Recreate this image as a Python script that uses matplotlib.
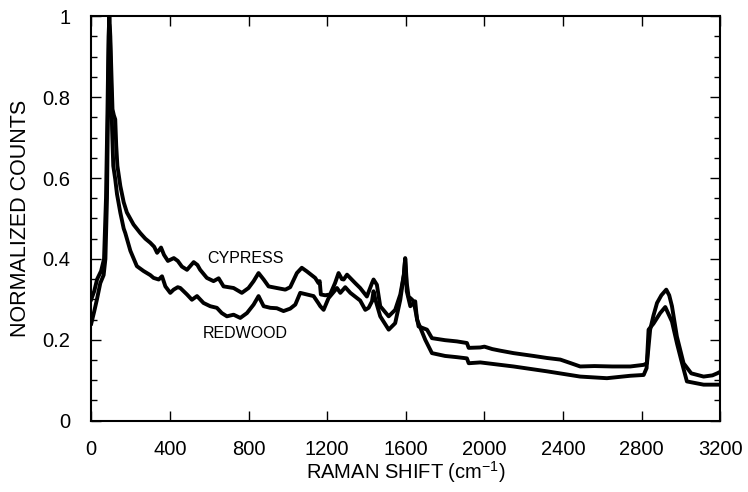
import matplotlib
matplotlib.use("Agg")
import matplotlib.pyplot as plt
from matplotlib.ticker import MultipleLocator, FuncFormatter

plt.rcParams['font.family'] = ['Liberation Sans', 'DejaVu Sans']

# values
cypress_x = [0, 15, 30, 50, 65, 75, 82, 88, 92, 97, 103, 108, 115, 122, 127, 133, 148, 165,
             181, 215, 249, 275, 300, 320, 335, 355, 370, 390, 420, 440, 461, 487, 521, 540,
             554, 588, 622, 648, 673, 724, 766, 800, 826, 851, 877, 902, 944, 987, 1012,
             1046, 1071, 1097, 1139, 1156, 1162, 1168, 1190, 1215, 1240, 1258, 1275, 1284,
             1301, 1343, 1368, 1402, 1428, 1436, 1453, 1470, 1513, 1546, 1572, 1590, 1597,
             1605, 1614, 1630, 1640, 1665, 1708, 1733, 1800, 1860, 1911, 1920, 1979, 2000,
             2040, 2081, 2148, 2250, 2318, 2386, 2440, 2487, 2560, 2650, 2742, 2810, 2827,
             2843, 2860, 2878, 2900, 2925, 2940, 2954, 2979, 3013, 3052, 3115, 3160, 3184, 3200]
cypress_y = [0.30, 0.32, 0.35, 0.37, 0.40, 0.55, 0.75, 0.95, 1.00, 0.95, 0.85, 0.77, 0.755,
             0.745, 0.68, 0.63, 0.58, 0.54, 0.515, 0.485, 0.464, 0.45, 0.44, 0.43, 0.415,
             0.428, 0.41, 0.395, 0.402, 0.395, 0.381, 0.373, 0.392, 0.385, 0.373, 0.353,
             0.345, 0.352, 0.332, 0.328, 0.316, 0.328, 0.345, 0.365, 0.349, 0.332, 0.328,
             0.324, 0.33, 0.365, 0.378, 0.369, 0.353, 0.340, 0.345, 0.312, 0.31, 0.312, 0.34,
             0.365, 0.35, 0.349, 0.361, 0.340, 0.328, 0.307, 0.340, 0.349, 0.336, 0.283,
             0.258, 0.274, 0.312, 0.36, 0.402, 0.34, 0.307, 0.30, 0.295, 0.233, 0.225, 0.204,
             0.199, 0.196, 0.192, 0.180, 0.181, 0.183, 0.177, 0.173, 0.167, 0.16, 0.155,
             0.151, 0.142, 0.134, 0.135, 0.134, 0.134, 0.138, 0.142, 0.225, 0.26, 0.291,
             0.31, 0.324, 0.31, 0.283, 0.208, 0.142, 0.117, 0.109, 0.112, 0.117, 0.121]

redwood_x = [0, 15, 29, 46, 63, 72, 80, 87, 91, 95, 100, 106, 112, 122, 131, 148, 165, 173,
             199, 232, 266, 300, 317, 343, 360, 377, 402, 419, 440, 453, 487, 512, 538, 571,
             605, 639, 664, 690, 724, 758, 792, 826, 851, 877, 911, 944, 978, 1012, 1038,
             1063, 1097, 1131, 1156, 1165, 1182, 1207, 1250, 1267, 1292, 1318, 1368, 1394,
             1411, 1428, 1436, 1445, 1470, 1513, 1546, 1572, 1590, 1597, 1605, 1623, 1648,
             1657, 1699, 1733, 1800, 1860, 1911, 1920, 1979, 2148, 2318, 2487, 2623, 2742,
             2810, 2825, 2835, 2860, 2894, 2920, 2954, 2980, 3001, 3030, 3115, 3200]
redwood_y = [0.24, 0.27, 0.30, 0.34, 0.36, 0.40, 0.55, 0.85, 0.98, 0.95, 0.85, 0.72, 0.63,
             0.597, 0.56, 0.514, 0.475, 0.464, 0.42, 0.382, 0.37, 0.36, 0.353, 0.349, 0.357,
             0.332, 0.316, 0.324, 0.33, 0.328, 0.312, 0.299, 0.308, 0.291, 0.283, 0.279,
             0.266, 0.258, 0.262, 0.254, 0.266, 0.287, 0.308, 0.283, 0.279, 0.278, 0.271,
             0.277, 0.287, 0.316, 0.312, 0.308, 0.29, 0.283, 0.274, 0.303, 0.328, 0.316,
             0.330, 0.316, 0.297, 0.274, 0.279, 0.295, 0.320, 0.30, 0.258, 0.225, 0.241,
             0.299, 0.36, 0.40, 0.32, 0.283, 0.295, 0.250, 0.200, 0.167, 0.160, 0.157, 0.154,
             0.142, 0.144, 0.134, 0.122, 0.109, 0.105, 0.111, 0.113, 0.13, 0.225, 0.24,
             0.266, 0.281, 0.245, 0.19, 0.150, 0.097, 0.089, 0.089]

fig = plt.figure(figsize=(7.48, 4.92), dpi=100)
ax = fig.add_axes([0.122, 0.145, 0.841, 0.822])

ax.plot(cypress_x, cypress_y, color='black', lw=2.8, solid_joinstyle='round')
ax.plot(redwood_x, redwood_y, color='black', lw=2.8, solid_joinstyle='round')

ax.text(783, 0.40, 'CYPRESS', fontsize=11.5, ha='center', va='center')
ax.text(783, 0.215, 'REDWOOD', fontsize=11.5, ha='center', va='center')

ax.set_xlim(0, 3200)
ax.set_ylim(0, 1)
ax.xaxis.set_major_locator(MultipleLocator(400))
ax.yaxis.set_major_locator(MultipleLocator(0.2))
ax.yaxis.set_minor_locator(MultipleLocator(0.05))
ax.yaxis.set_major_formatter(FuncFormatter(lambda v, p: '%g' % round(v, 2)))

ax.tick_params(which='both', direction='in', top=True, right=True, width=1.0,
               labelsize=14.5)
ax.tick_params(which='major', length=7.5)
ax.tick_params(which='minor', length=4.5)
ax.tick_params(axis='x', pad=14)
ax.tick_params(axis='y', pad=15)
for s in ax.spines.values():
    s.set_linewidth(1.5)

ax.set_xlabel(r'RAMAN SHIFT (cm$^{\mathregular{-1}}$)', fontsize=14.5, labelpad=0)
ax.set_ylabel('NORMALIZED COUNTS', fontsize=15.5, labelpad=8)

fig.savefig('out.png', dpi=100)
